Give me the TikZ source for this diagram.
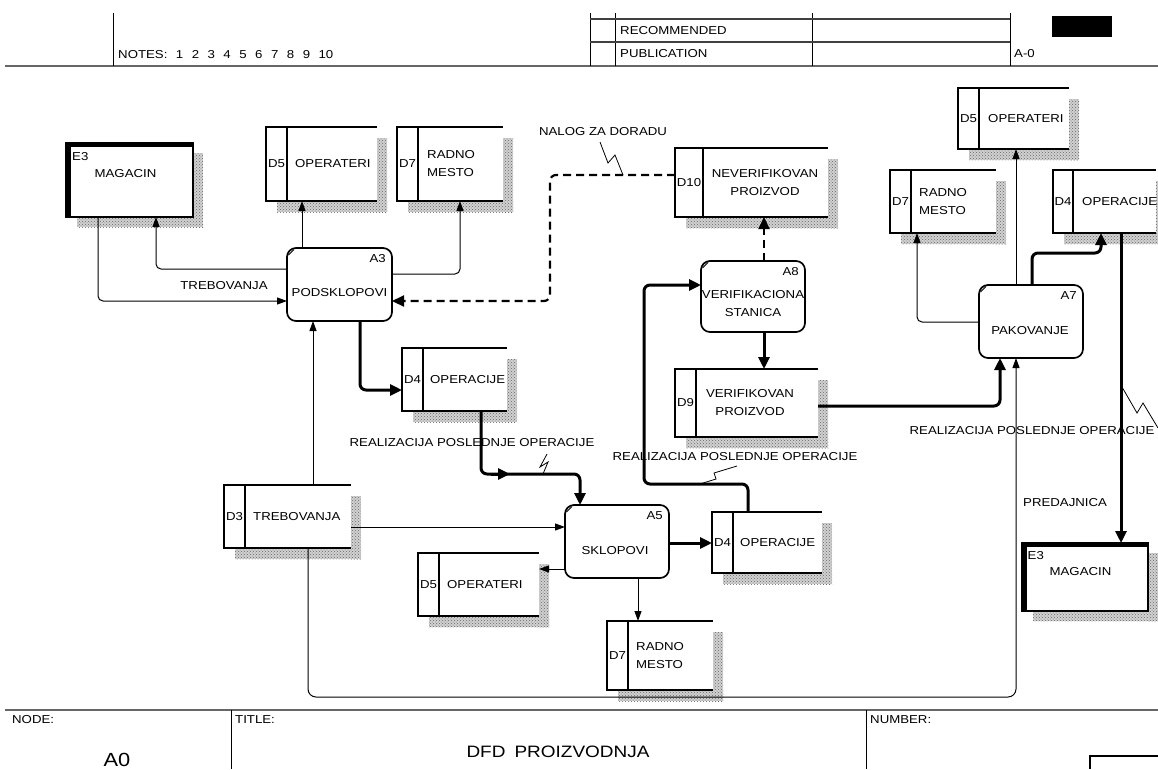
\documentclass[tikz,border=0pt]{standalone}
\usepackage{fontspec}
\setmainfont{Liberation Sans}[FakeStretch=1.15]
\usetikzlibrary{arrows.meta,calc,patterns}
\newcommand\nsp{\hspace{8.5pt}}
\newcommand\hatchrect[2]{\fill[black!18] #1 rectangle #2; \fill[pattern=crosshatch dots, pattern color=black!60] #1 rectangle #2;}
\newcommand\storedeco[2]{%
  \hatchrect{([yshift=-11pt]#1.north east)}{([shift={(10pt,-11pt)}]#1.south east)}%
  \hatchrect{([xshift=11pt]#1.south west)}{([shift={(10pt,-11pt)}]#1.south east)}%
  \draw[boxline] (#1.north east) -- (#1.north west) -- (#1.south west) -- (#1.south east);%
  \draw[boxline] ([xshift=#2]#1.north west) -- ([xshift=#2]#1.south west);}
\newcommand\entdeco[1]{%
  \hatchrect{([yshift=-10pt]#1.north east)}{([shift={(10pt,-10pt)}]#1.south east)}%
  \hatchrect{([xshift=11pt]#1.south west)}{([shift={(10pt,-10pt)}]#1.south east)}%
  \draw[boxline] (#1.north west) rectangle (#1.south east);%
  \draw[line width=5pt] ([xshift=2pt]#1.south west) -- ([xshift=2pt]#1.north west);%
  \draw[line width=4pt] ([yshift=-1.5pt]#1.north west) -- ([yshift=-1.5pt]#1.north east);}
\newcommand\procdeco[1]{%
  \draw[line width=0.8pt] ([shift={(1.5pt,-7pt)}]#1.north west) -- ([shift={(7pt,-1.5pt)}]#1.north west);}
\begin{document}
\begin{tikzpicture}[x=1pt,y=-1pt,
 boxline/.style={line width=1.7pt},
 geom/.style={inner sep=0pt, outer sep=0pt, draw=none},
 proc/.style={draw, line width=1.7pt, rounded corners=9pt, fill=white, inner sep=0pt, outer sep=0pt},
 txt/.style={inner sep=0pt, font=\fontsize{11.5pt}{18pt}\selectfont},
 fl/.style={line width=1pt, rounded corners=5pt, -{Triangle[length=10pt,width=7pt]}},
 tfl/.style={line width=3pt, rounded corners=6pt, -{Triangle[length=12pt,width=11pt]}},
 dfl/.style={line width=2.2pt, rounded corners=6pt, dash pattern=on 8pt off 5pt, -{Triangle[length=12pt,width=11pt]}},
 zz/.style={line width=0.8pt},
 frm/.style={line width=0.9pt},
 sepline/.style={line width=1.8pt, black!60}]
\useasboundingbox (0,0) rectangle (1158,769);
\fill[white] (0,0) rectangle (1158,769);
\clip (0,0) rectangle (1158,769);

% header
\draw[sepline] (5,66) -- (1158,66);
\draw[frm] (113,13) -- (113,66);
\draw[frm] (590,13) -- (590,66) (615,13) -- (615,66) (812,13) -- (812,66) (1010,13) -- (1010,66);
\draw[line width=1.2pt, black!75] (590,19) -- (1010,19) (590,42) -- (1010,42);
\fill (1052,16) rectangle (1112,37);
\node[txt, anchor=west] (notes) at (118,55) {NOTES:\nsp 1\nsp 2\nsp 3\nsp 4\nsp 5\nsp 6\nsp 7\nsp 8\nsp 9\nsp 10};
\node[txt, anchor=west] (rec) at (620,31) {RECOMMENDED};
\node[txt, anchor=west] (pub) at (620,54) {PUBLICATION};
\node[txt, anchor=west] (aref) at (1014,54) {A-0};

% title block
\draw[sepline] (5,710) -- (1158,710);
\draw[frm] (231,710) -- (231,769) (866,710) -- (866,769);
\draw[line width=1.2pt] (1090,769) -- (1090,756) -- (1158,756);
\node[txt, anchor=west] (nodelbl) at (12,720) {NODE:};
\node[txt, anchor=west] (titlelbl) at (235,720) {TITLE:};
\node[txt, anchor=west] (numlbl) at (870,720) {NUMBER:};
\node[inner sep=0pt, font=\fontsize{19pt}{22pt}\selectfont] (nodeid) at (117,760) {A0};
\node[inner sep=0pt, font=\fontsize{16.5pt}{20pt}\selectfont] (title) at (558,752) {DFD\hspace{9pt}PROIZVODNJA};

% data stores
\node[geom, minimum width=111pt, minimum height=74pt] (d5a) at (321.5,164) {};
\node[geom, minimum width=106pt, minimum height=74pt] (d7a) at (450,164) {};
\node[geom, minimum width=153pt, minimum height=69pt] (d10) at (751.5,182.5) {};
\node[geom, minimum width=105pt, minimum height=63pt] (d4a) at (454.5,379.5) {};
\node[geom, minimum width=143pt, minimum height=68pt] (d9) at (746.5,403) {};
\node[geom, minimum width=127pt, minimum height=63pt] (d3) at (287.5,516.5) {};
\node[geom, minimum width=110pt, minimum height=61pt] (d4b) at (767,542.5) {};
\node[geom, minimum width=121pt, minimum height=63pt] (d5b) at (478.5,584.5) {};
\node[geom, minimum width=106pt, minimum height=69pt] (d7b) at (660,655.5) {};
\node[geom, minimum width=111pt, minimum height=61pt] (d5c) at (1013.5,118.5) {};
\node[geom, minimum width=106pt, minimum height=63pt] (d7c) at (943,201.5) {};
\node[geom, minimum width=103pt, minimum height=63pt] (d4c) at (1104.5,201.5) {};
\storedeco{d5a}{21pt}
\storedeco{d7a}{21pt}
\storedeco{d10}{28pt}
\storedeco{d4a}{21pt}
\storedeco{d9}{21pt}
\storedeco{d3}{21pt}
\storedeco{d4b}{21pt}
\storedeco{d5b}{21pt}
\storedeco{d7b}{21pt}
\storedeco{d5c}{21pt}
\storedeco{d7c}{21pt}
\storedeco{d4c}{20pt}

\node[txt] (d5a-id) at ([xshift=10.5pt]d5a.west) {D5};
\node[txt, anchor=west] (d5a-t) at ([xshift=29pt]d5a.west) {OPERATERI};
\node[txt] (d7a-id) at ([xshift=10.5pt]d7a.west) {D7};
\node[txt, anchor=west, align=left] (d7a-t) at ([xshift=30pt]d7a.west) {RADNO\\MESTO};
\node[txt] (d10-id) at ([xshift=14pt]d10.west) {D10};
\node[txt, align=center] (d10-t) at ([xshift=90pt]d10.west) {NEVERIFIKOVAN\\PROIZVOD};
\node[txt] (d4a-id) at ([xshift=10.5pt]d4a.west) {D4};
\node[txt, anchor=west] (d4a-t) at ([xshift=28pt]d4a.west) {OPERACIJE};
\node[txt] (d9-id) at ([xshift=10.5pt]d9.west) {D9};
\node[txt, align=center] (d9-t) at ([xshift=75pt]d9.west) {VERIFIKOVAN\\PROIZVOD};
\node[txt] (d3-id) at ([xshift=10.5pt]d3.west) {D3};
\node[txt, anchor=west] (d3-t) at ([xshift=29pt]d3.west) {TREBOVANJA};
\node[txt] (d4b-id) at ([xshift=10.5pt]d4b.west) {D4};
\node[txt, anchor=west] (d4b-t) at ([xshift=28pt]d4b.west) {OPERACIJE};
\node[txt] (d5b-id) at ([xshift=10.5pt]d5b.west) {D5};
\node[txt, anchor=west] (d5b-t) at ([xshift=29pt]d5b.west) {OPERATERI};
\node[txt] (d7b-id) at ([xshift=10.5pt]d7b.west) {D7};
\node[txt, anchor=west, align=left] (d7b-t) at ([xshift=29pt]d7b.west) {RADNO\\MESTO};
\node[txt] (d5c-id) at ([xshift=10.5pt]d5c.west) {D5};
\node[txt, anchor=west] (d5c-t) at ([xshift=30pt]d5c.west) {OPERATERI};
\node[txt] (d7c-id) at ([xshift=10.5pt]d7c.west) {D7};
\node[txt, anchor=west, align=left] (d7c-t) at ([xshift=29pt]d7c.west) {RADNO\\MESTO};
\node[txt] (d4c-id) at ([xshift=10pt]d4c.west) {D4};
\node[txt, anchor=west] (d4c-t) at ([xshift=29pt]d4c.west) {OPERACIJE};

% external entities
\node[geom, minimum width=127pt, minimum height=74pt] (e3a) at (129.5,180) {};
\node[geom, minimum width=126pt, minimum height=68pt] (e3b) at (1085,577) {};
\entdeco{e3a}
\entdeco{e3b}
\node[txt, anchor=north west] (e3a-id) at ([shift={(6pt,-9pt)}]e3a.north west) {E3};
\node[txt] (e3a-t) at ([shift={(-4pt,6pt)}]e3a.center) {MAGACIN};
\node[txt, anchor=north west] (e3b-id) at ([shift={(5.5pt,-8pt)}]e3b.north west) {E3};
\node[txt] (e3b-t) at ([shift={(-4.5pt,5pt)}]e3b.center) {MAGACIN};

% processes
\node[proc, minimum width=105pt, minimum height=73pt] (a3) at (339.5,284.5) {};
\node[proc, minimum width=104pt, minimum height=71pt] (a8) at (753,296.5) {};
\node[proc, minimum width=104pt, minimum height=73pt] (a5) at (617,541.5) {};
\node[proc, minimum width=104pt, minimum height=73pt] (a7) at (1031,321.5) {};
\procdeco{a3}
\procdeco{a8}
\procdeco{a5}
\procdeco{a7}
\node[txt, anchor=north east] (a3-id) at ([shift={(-6pt,-6pt)}]a3.north east) {A3};
\node[txt] (a3-t) at ([yshift=-8pt]a3.center) {PODSKLOPOVI};
\node[txt, anchor=north east] (a8-id) at ([shift={(-6pt,-6pt)}]a8.north east) {A8};
\node[txt, align=center] (a8-t) at ([yshift=-7pt]a8.center) {VERIFIKACIONA\\STANICA};
\node[txt, anchor=north east] (a5-id) at ([shift={(-6pt,-6pt)}]a5.north east) {A5};
\node[txt] (a5-t) at ([shift={(-2pt,-9pt)}]a5.center) {SKLOPOVI};
\node[txt, anchor=north east] (a7-id) at ([shift={(-6pt,-6pt)}]a7.north east) {A7};
\node[txt] (a7-t) at ([shift={(-1pt,-9pt)}]a7.center) {PAKOVANJE};

% connectors
\coordinate (c1) at ([xshift=15pt]a3.north west);
\draw[fl] (c1) -- (c1 |- d5a.south);
\coordinate (c2) at ([yshift=-21pt]a3.north west);
\coordinate (c2e) at ([xshift=90pt]e3a.south west);
\draw[fl] (c2) -| (c2e);
\coordinate (c3) at ([xshift=32pt]e3a.south west);
\coordinate (c3e) at ([yshift=-53pt]a3.north west);
\draw[fl] (c3) |- (c3e);
\coordinate (c4) at ([yshift=-26pt]a3.north east);
\coordinate (c4e) at ([xshift=63pt]d7a.south west);
\draw[fl] (c4) -| (c4e);
\coordinate (c5) at ([yshift=-27pt]d10.north west);
\coordinate (c5m) at ([xshift=-125pt]c5);
\coordinate (c5e) at ([yshift=-53pt]a3.north east);
\draw[dfl] (c5) -- (c5m) |- (c5e);
\coordinate (c6) at ([xshift=63pt]a8.north west);
\draw[dfl] (c6) -- (c6 |- d10.south);
\coordinate (c7) at ([xshift=63pt]a8.south west);
\draw[tfl] (c7) -- (c7 |- d9.north);
\coordinate (c8) at ([xshift=36pt]d4b.north west);
\coordinate (c8a) at ([yshift=28pt]c8);
\coordinate (c8b) at ([xshift=-104pt]c8a);
\coordinate (c8e) at ([yshift=-24pt]a8.north west);
\draw[tfl] (c8) -- (c8a) -- (c8b) |- (c8e);
\coordinate (c9) at ([yshift=-37pt]d9.north east);
\coordinate (c9e) at ([xshift=21pt]a7.south west);
\draw[tfl] (c9) -| (c9e);
\coordinate (c10) at ([xshift=37pt]a7.north west);
\draw[fl] (c10) -- (c10 |- d5c.south);
\coordinate (c11) at ([xshift=53pt]a7.north west);
\coordinate (c11a) at ([yshift=32pt]c11);
\coordinate (c11e) at ([xshift=48pt]d4c.south west);
\draw[tfl] (c11) -- (c11a) -| (c11e);
\coordinate (c12) at ([yshift=-37pt]a7.north west);
\coordinate (c12e) at ([xshift=27pt]d7c.south west);
\draw[fl] (c12) -| (c12e);
\coordinate (c13) at ([xshift=68pt]d4c.south west);
\draw[tfl] (c13) -- (c13 |- e3b.north);
\coordinate (c14) at ([xshift=84pt]d3.south west);
\coordinate (c14a) at ([yshift=-149pt]c14);
\coordinate (c14e) at ([xshift=37pt]a7.south west);
\draw[fl, rounded corners=8pt] (c14) -- (c14a) -| (c14e);
\coordinate (c15) at ([xshift=89pt]d3.north west);
\draw[fl] (c15) -- (c15 |- a3.south);
\coordinate (c16) at ([yshift=-42pt]d3.north east);
\draw[fl] (c16) -- (c16 -| a5.west);
\coordinate (c17) at ([xshift=73pt]a3.south west);
\coordinate (c17e) at ([yshift=-42pt]d4a.north west);
\draw[tfl] (c17) |- (c17e);
\coordinate (c18) at ([xshift=79pt]d4a.south west);
\coordinate (c18a) at ([yshift=-63pt]c18);
\coordinate (c18e) at ([xshift=15pt]a5.north west);
\draw[tfl] (c18) -- (c18a) -| (c18e);
\draw[tfl] ([xshift=10pt]c18a) -- ([xshift=29pt]c18a);
\coordinate (c19) at ([yshift=-38pt]a5.north east);
\draw[tfl] (c19) -- (c19 -| d4b.west);
\coordinate (c20) at ([yshift=-64pt]a5.north west);
\draw[fl] (c20) -- (c20 -| d5b.east);
\coordinate (c21) at ([xshift=73pt]a5.south west);
\draw[fl] (c21) -- (c21 |- d7b.north);

% lightning marks
\draw[zz] (600,142) -- (608,163) -- (615,155) -- (623,175);
\draw[zz] (547,454) -- (540,467) -- (548,462) -- (543,474);
\draw[zz] (737,466) -- (714,473) -- (716,479) -- (700,484);
\draw[zz] (1122,387) -- (1137,413) -- (1143,403) -- (1158,428);

% flow labels
\node[txt] (lbl-treb) at (224,286) {TREBOVANJA};
\node[txt] (lbl-nalog) at (603,132) {NALOG ZA DORADU};
\node[txt] (lbl-r1) at (472,443) {REALIZACIJA POSLEDNJE OPERACIJE};
\node[txt] (lbl-r2) at (735,457) {REALIZACIJA POSLEDNJE OPERACIJE};
\node[txt] (lbl-r3) at (1032,431) {REALIZACIJA POSLEDNJE OPERACIJE};
\node[txt, anchor=west] (lbl-pred) at (1023,503) {PREDAJNICA};
\end{tikzpicture}
\end{document}
